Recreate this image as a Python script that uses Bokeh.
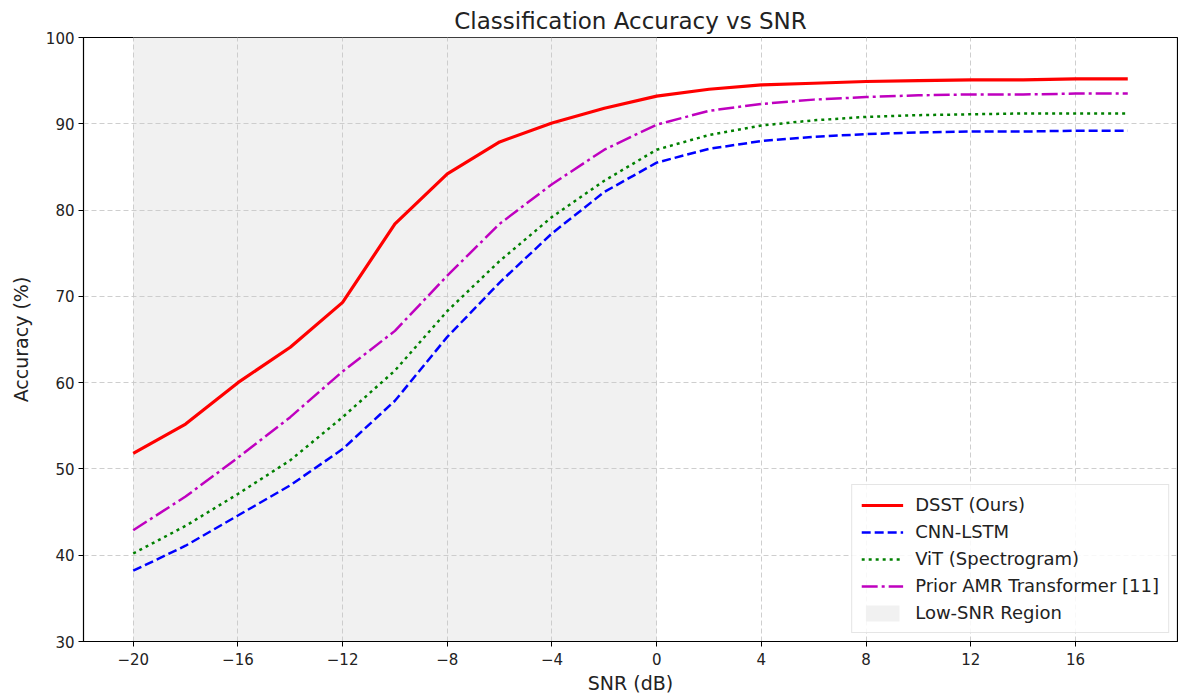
from bokeh.plotting import figure
from bokeh.models import Range1d, FixedTicker, Legend, LegendItem
from bokeh.embed import file_html
from bokeh.resources import INLINE

snr = [-20, -18, -16, -14, -12, -10, -8, -6, -4, -2, 0, 2, 4, 6, 8, 10, 12, 14, 16, 18]
dsst = [51.8, 55.2, 60.0, 64.1, 69.3, 78.4, 84.2, 87.9, 90.1, 91.8, 93.2, 94.0, 94.5, 94.7, 94.9, 95.0, 95.1, 95.1, 95.2, 95.2]
cnn_lstm = [38.2, 41.1, 44.6, 48.1, 52.3, 57.9, 65.3, 71.6, 77.3, 82.1, 85.5, 87.1, 88.0, 88.5, 88.8, 89.0, 89.1, 89.1, 89.2, 89.2]
vit = [40.2, 43.4, 47.1, 51.0, 56.0, 61.4, 68.3, 74.1, 79.2, 83.4, 87.0, 88.7, 89.8, 90.4, 90.8, 91.0, 91.1, 91.2, 91.2, 91.2]
prior_amr = [42.9, 46.8, 51.3, 56.0, 61.3, 66.0, 72.4, 78.4, 83.0, 87.0, 89.9, 91.5, 92.3, 92.8, 93.1, 93.3, 93.4, 93.4, 93.5, 93.5]
low_snr_region = [-20, 0]

x_ticks = [-20, -16, -12, -8, -4, 0, 4, 8, 12, 16]
y_ticks = [30, 40, 50, 60, 70, 80, 90, 100]

FONT = "DejaVu Sans"

p = figure(width=1178, height=696, output_backend="svg", toolbar_location=None,
           x_range=Range1d(-21.9, 19.9), y_range=Range1d(30, 100),
           title="Classification Accuracy vs SNR",
           x_axis_label="SNR (dB)", y_axis_label="Accuracy (%)",
           min_border_left=83, min_border_right=1, min_border_top=37, min_border_bottom=55)

p.title.align = "center"
p.title.text_font = FONT
p.title.text_font_size = "23px"
p.title.text_font_style = "normal"
p.title.text_color = "#222222"
p.title.standoff = 7

p.outline_line_color = "black"
p.outline_line_width = 1.2
p.background_fill_color = "white"

for ax in (p.xaxis[0], p.yaxis[0]):
    ax.axis_label_text_font = FONT
    ax.axis_label_text_font_size = "19px"
    ax.axis_label_text_font_style = "normal"
    ax.axis_label_text_color = "#222222"
    ax.major_label_text_font = FONT
    ax.major_label_text_font_size = "15px"
    ax.major_label_text_color = "#222222"
    ax.axis_line_color = "black"
    ax.major_tick_line_color = "black"
    ax.major_tick_out = 5
    ax.major_tick_in = 0
    ax.minor_tick_line_color = None
    ax.major_label_standoff = 4

p.xaxis[0].ticker = FixedTicker(ticks=x_ticks)
p.yaxis[0].ticker = FixedTicker(ticks=y_ticks)
p.xaxis[0].major_label_overrides = {t: (("\u2212" + str(-t)) if t < 0 else str(t)) for t in x_ticks}
p.xaxis[0].major_label_standoff = 6
p.xaxis[0].axis_label_standoff = 4
p.yaxis[0].axis_label_standoff = 11

for g in (p.xgrid[0], p.ygrid[0]):
    g.grid_line_color = "#c8c8c8"
    g.grid_line_dash = "5 3"
    g.grid_line_width = 0.9
    g.level = "underlay"

region = p.quad(left=[low_snr_region[0]], right=[low_snr_region[1]], bottom=[30], top=[100],
                fill_color="#f1f1f1", line_color=None, level="underlay")

r_dsst = p.line(snr, dsst, line_color="red", line_width=3.2)
r_cnn = p.line(snr, cnn_lstm, line_color="blue", line_width=2.5, line_dash="9 4")
r_vit = p.line(snr, vit, line_color="green", line_width=2.5, line_dash="3 4")
r_amr = p.line(snr, prior_amr, line_color="#bf00bf", line_width=2.5, line_dash="16 4 3 4")

legend = Legend(items=[
    LegendItem(label="DSST (Ours)", renderers=[r_dsst]),
    LegendItem(label="CNN-LSTM", renderers=[r_cnn]),
    LegendItem(label="ViT (Spectrogram)", renderers=[r_vit]),
    LegendItem(label="Prior AMR Transformer [11]", renderers=[r_amr]),
    LegendItem(label="Low-SNR Region", renderers=[region]),
], location="bottom_right")
legend.label_text_font = FONT
legend.label_text_font_size = "18px"
legend.label_text_color = "#222222"
legend.glyph_width = 42
legend.glyph_height = 20
legend.label_height = 20
legend.label_standoff = 12
legend.spacing = 6
legend.padding = 9
legend.margin = 8
legend.border_line_color = "#cccccc"
legend.border_line_width = 1
legend.background_fill_alpha = 0.85
p.add_layout(legend)

open("out.html", "w").write(file_html(p, INLINE))
